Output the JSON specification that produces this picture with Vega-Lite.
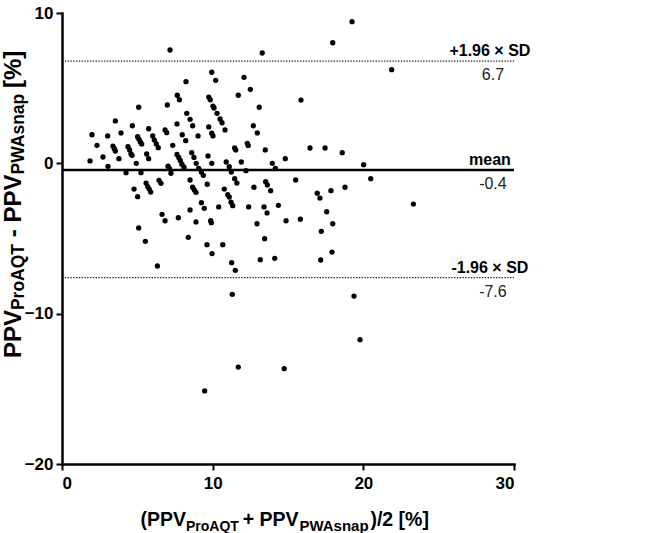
{
  "$schema": "https://vega.github.io/schema/vega-lite/v6.json",
  "width": 452,
  "height": 451,
  "autosize": {"type": "none"},
  "padding": {"left": 62, "top": 13, "right": 132, "bottom": 69},
  "background": "white",
  "config": {
    "view": {"stroke": null},
    "font": "Liberation Sans",
    "axis": {
      "domainColor": "black", "domainWidth": 2.5, "domainCap": "square",
      "tickColor": "black", "tickWidth": 2, "tickSize": 6,
      "labelFont": "Liberation Sans", "labelFontWeight": "bold", "labelFontSize": 17,
      "labelColor": "black", "grid": false, "title": null
    }
  },
  "datasets": {
    "points": [
      {"x": 7.17, "y": 7.54}, {"x": 13.29, "y": 7.34}, {"x": 19.25, "y": 9.42}, {"x": 17.97, "y": 8.02},
      {"x": 21.88, "y": 6.23}, {"x": 8.23, "y": 5.43}, {"x": 9.94, "y": 6.06}, {"x": 10.20, "y": 5.52},
      {"x": 12.08, "y": 5.72}, {"x": 12.50, "y": 4.92}, {"x": 11.70, "y": 4.53}, {"x": 13.09, "y": 3.73},
      {"x": 15.86, "y": 4.21}, {"x": 5.09, "y": 3.73}, {"x": 6.99, "y": 3.88}, {"x": 7.65, "y": 4.53},
      {"x": 7.79, "y": 4.23}, {"x": 9.74, "y": 4.41}, {"x": 9.84, "y": 4.23}, {"x": 10.02, "y": 3.81},
      {"x": 10.09, "y": 3.68}, {"x": 10.29, "y": 3.33}, {"x": 10.49, "y": 2.95}, {"x": 10.62, "y": 2.70},
      {"x": 10.82, "y": 2.22}, {"x": 8.28, "y": 3.33}, {"x": 8.50, "y": 2.93}, {"x": 8.67, "y": 2.50},
      {"x": 7.63, "y": 2.62}, {"x": 9.03, "y": 1.82}, {"x": 9.74, "y": 2.42}, {"x": 9.94, "y": 2.00},
      {"x": 10.02, "y": 1.82}, {"x": 3.54, "y": 2.82}, {"x": 4.67, "y": 2.50}, {"x": 3.92, "y": 2.02},
      {"x": 5.75, "y": 2.30}, {"x": 6.84, "y": 2.22}, {"x": 6.95, "y": 2.04}, {"x": 1.99, "y": 1.90},
      {"x": 3.03, "y": 1.82}, {"x": 2.32, "y": 1.20}, {"x": 3.38, "y": 1.15}, {"x": 3.47, "y": 0.97},
      {"x": 3.54, "y": 0.82}, {"x": 4.38, "y": 1.11}, {"x": 4.49, "y": 0.89}, {"x": 4.58, "y": 0.62},
      {"x": 4.65, "y": 0.53}, {"x": 5.02, "y": 1.77}, {"x": 5.11, "y": 1.60}, {"x": 5.20, "y": 1.42},
      {"x": 5.29, "y": 1.29}, {"x": 6.02, "y": 1.82}, {"x": 6.13, "y": 1.55}, {"x": 6.26, "y": 1.29},
      {"x": 6.39, "y": 1.04}, {"x": 7.35, "y": 1.20}, {"x": 7.98, "y": 1.90}, {"x": 8.21, "y": 1.51},
      {"x": 2.72, "y": 0.42}, {"x": 1.86, "y": 0.16}, {"x": 3.78, "y": 0.31}, {"x": 5.62, "y": 0.62},
      {"x": 5.75, "y": 0.31}, {"x": 7.63, "y": 0.59}, {"x": 7.75, "y": 0.39}, {"x": 7.85, "y": 0.19},
      {"x": 8.61, "y": 0.71}, {"x": 8.76, "y": 0.39}, {"x": 9.69, "y": 0.49}, {"x": 10.90, "y": 0.09},
      {"x": 11.46, "y": 1.02}, {"x": 11.53, "y": 0.89}, {"x": 11.90, "y": 0.09}, {"x": 12.30, "y": 1.33},
      {"x": 12.36, "y": 1.19}, {"x": 12.70, "y": 2.50}, {"x": 12.96, "y": 2.02}, {"x": 13.49, "y": 0.89},
      {"x": 14.82, "y": 0.31}, {"x": 16.46, "y": 1.02}, {"x": 17.46, "y": 1.02}, {"x": 18.60, "y": 0.71},
      {"x": 3.05, "y": -0.20}, {"x": 4.93, "y": 0.00}, {"x": 7.04, "y": -0.19}, {"x": 7.12, "y": -0.33},
      {"x": 7.96, "y": -0.06}, {"x": 8.10, "y": -0.26}, {"x": 8.91, "y": 0.00}, {"x": 9.07, "y": -0.33},
      {"x": 9.25, "y": -0.58}, {"x": 9.38, "y": -0.80}, {"x": 9.94, "y": 0.00}, {"x": 11.10, "y": -0.22},
      {"x": 13.96, "y": 0.00}, {"x": 14.16, "y": -0.33}, {"x": 20.02, "y": -0.09}, {"x": 4.25, "y": -0.62},
      {"x": 5.24, "y": -0.62}, {"x": 7.23, "y": -0.66}, {"x": 11.24, "y": -0.58}, {"x": 12.21, "y": -0.49},
      {"x": 4.78, "y": -1.71}, {"x": 5.02, "y": -2.22}, {"x": 5.58, "y": -1.31}, {"x": 5.69, "y": -1.55},
      {"x": 5.79, "y": -1.71}, {"x": 5.89, "y": -1.91}, {"x": 6.44, "y": -1.13}, {"x": 6.57, "y": -1.33},
      {"x": 6.64, "y": -3.39}, {"x": 6.84, "y": -3.82}, {"x": 5.09, "y": -4.30}, {"x": 5.53, "y": -5.19},
      {"x": 6.33, "y": -6.83}, {"x": 7.72, "y": -3.62}, {"x": 8.50, "y": -1.11}, {"x": 8.67, "y": -1.59},
      {"x": 8.78, "y": -1.77}, {"x": 8.89, "y": -1.93}, {"x": 8.50, "y": -3.10}, {"x": 8.38, "y": -4.92},
      {"x": 8.89, "y": -3.90}, {"x": 9.64, "y": -1.39}, {"x": 9.25, "y": -2.62}, {"x": 9.44, "y": -2.99},
      {"x": 9.87, "y": -3.82}, {"x": 9.91, "y": -3.95}, {"x": 9.62, "y": -5.41}, {"x": 9.96, "y": -6.01},
      {"x": 10.40, "y": -2.90}, {"x": 10.67, "y": -5.41}, {"x": 10.77, "y": -1.71}, {"x": 11.00, "y": -2.09},
      {"x": 11.10, "y": -2.24}, {"x": 11.22, "y": -2.59}, {"x": 11.33, "y": -2.82}, {"x": 11.26, "y": -6.61},
      {"x": 11.50, "y": -7.12}, {"x": 11.30, "y": -8.71}, {"x": 11.46, "y": -1.02}, {"x": 11.61, "y": -1.31},
      {"x": 12.74, "y": -1.59}, {"x": 12.39, "y": -2.90}, {"x": 12.94, "y": -4.02}, {"x": 13.16, "y": -6.41},
      {"x": 13.45, "y": -5.01}, {"x": 13.41, "y": -2.90}, {"x": 13.61, "y": -3.30}, {"x": 13.52, "y": -1.22},
      {"x": 13.63, "y": -1.44}, {"x": 13.85, "y": -1.82}, {"x": 14.36, "y": -2.79}, {"x": 14.12, "y": -6.32},
      {"x": 14.87, "y": -3.82}, {"x": 15.51, "y": -1.11}, {"x": 20.49, "y": -1.02}, {"x": 16.94, "y": -1.99},
      {"x": 17.12, "y": -2.31}, {"x": 17.85, "y": -1.82}, {"x": 18.78, "y": -1.59}, {"x": 17.57, "y": -3.22},
      {"x": 15.82, "y": -3.72}, {"x": 17.97, "y": -4.02}, {"x": 17.21, "y": -4.52}, {"x": 17.92, "y": -5.90},
      {"x": 17.17, "y": -6.43}, {"x": 23.32, "y": -2.71}, {"x": 19.38, "y": -8.83}, {"x": 9.47, "y": -15.14},
      {"x": 11.70, "y": -13.55}, {"x": 14.75, "y": -13.66}, {"x": 19.78, "y": -11.73}
    ],
    "lines": [
      {"y": 6.8, "label": "+1.96 × SD", "value": "6.7", "kind": "limit"},
      {"y": -0.44, "label": "mean", "value": "-0.4", "kind": "mean"},
      {"y": -7.6, "label": "-1.96 × SD", "value": "-7.6", "kind": "limit"}
    ],
    "one": [{}]
  },
  "layer": [
    {
      "data": {"name": "lines"},
      "transform": [{"filter": "datum.kind === 'limit'"}],
      "mark": {"type": "rule", "color": "#222", "strokeWidth": 1.3, "strokeDash": [1.4, 1.4]},
      "encoding": {
        "x": {"datum": 0, "type": "quantitative", "scale": {"domain": [0, 30], "nice": false, "zero": false}},
        "x2": {"datum": 30},
        "y": {"field": "y", "type": "quantitative", "scale": {"domain": [-20, 10], "nice": false, "zero": false}}
      }
    },
    {
      "data": {"name": "lines"},
      "transform": [{"filter": "datum.kind === 'mean'"}],
      "mark": {"type": "rule", "color": "black", "strokeWidth": 2.5},
      "encoding": {
        "x": {"datum": 0, "type": "quantitative"},
        "x2": {"datum": 30},
        "y": {"field": "y", "type": "quantitative"}
      }
    },
    {
      "data": {"name": "points"},
      "mark": {"type": "circle", "color": "black", "opacity": 1, "size": 28},
      "encoding": {
        "x": {"field": "x", "type": "quantitative", "scale": {"domain": [0, 30], "nice": false, "zero": false},
              "axis": {"values": [0, 10, 20, 30], "labelPadding": 5, "orient": "bottom"}},
        "y": {"field": "y", "type": "quantitative", "scale": {"domain": [-20, 10], "nice": false, "zero": false},
              "axis": {"values": [-20, -10, 0, 10], "labelPadding": 3, "orient": "left"}}
      }
    },
    {
      "data": {"name": "lines"},
      "mark": {"type": "text", "font": "Liberation Sans", "fontWeight": "bold", "fontSize": 16, "align": "center", "baseline": "alphabetic", "dy": -5, "color": "black"},
      "encoding": {
        "x": {"datum": 28.4, "type": "quantitative"},
        "y": {"field": "y", "type": "quantitative"},
        "text": {"field": "label"}
      }
    },
    {
      "data": {"name": "lines"},
      "mark": {"type": "text", "font": "Liberation Sans", "fontSize": 16, "align": "center", "baseline": "alphabetic", "dy": 19, "color": "#222"},
      "encoding": {
        "x": {"datum": 28.6, "type": "quantitative"},
        "y": {"field": "y", "type": "quantitative"},
        "text": {"field": "value"}
      }
    },
    {"data": {"name": "one"}, "mark": {"type": "text", "text": "(PPV", "font": "Liberation Sans", "fontWeight": "bold", "fontSize": 19.5, "align": "left", "baseline": "alphabetic", "color": "black"},
     "encoding": {"x": {"datum": 5.21, "type": "quantitative"}, "y": {"datum": -24.12, "type": "quantitative"}}},
    {"data": {"name": "one"}, "mark": {"type": "text", "text": "ProAQT", "font": "Liberation Sans", "fontWeight": "bold", "fontSize": 14, "align": "left", "baseline": "alphabetic", "color": "black"},
     "encoding": {"x": {"datum": 8.23, "type": "quantitative"}, "y": {"datum": -24.46, "type": "quantitative"}}},
    {"data": {"name": "one"}, "mark": {"type": "text", "text": "+ PPV", "font": "Liberation Sans", "fontWeight": "bold", "fontSize": 19.5, "align": "left", "baseline": "alphabetic", "color": "black"},
     "encoding": {"x": {"datum": 11.99, "type": "quantitative"}, "y": {"datum": -24.12, "type": "quantitative"}}},
    {"data": {"name": "one"}, "mark": {"type": "text", "text": "PWAsnap", "font": "Liberation Sans", "fontWeight": "bold", "fontSize": 15, "align": "left", "baseline": "alphabetic", "color": "black"},
     "encoding": {"x": {"datum": 15.76, "type": "quantitative"}, "y": {"datum": -24.46, "type": "quantitative"}}},
    {"data": {"name": "one"}, "mark": {"type": "text", "text": ")/2 [%]", "font": "Liberation Sans", "fontWeight": "bold", "fontSize": 19.5, "align": "left", "baseline": "alphabetic", "color": "black"},
     "encoding": {"x": {"datum": 20.47, "type": "quantitative"}, "y": {"datum": -24.12, "type": "quantitative"}}},
    {"data": {"name": "one"}, "mark": {"type": "text", "text": "PPV", "angle": 270, "font": "Liberation Sans", "fontWeight": "bold", "fontSize": 24, "align": "left", "baseline": "alphabetic", "color": "black"},
     "encoding": {"x": {"datum": -2.72, "type": "quantitative"}, "y": {"datum": -12.95, "type": "quantitative"}}},
    {"data": {"name": "one"}, "mark": {"type": "text", "text": "ProAQT", "angle": 270, "font": "Liberation Sans", "fontWeight": "bold", "fontSize": 17.5, "align": "left", "baseline": "alphabetic", "color": "black"},
     "encoding": {"x": {"datum": -2.52, "type": "quantitative"}, "y": {"datum": -9.76, "type": "quantitative"}}},
    {"data": {"name": "one"}, "mark": {"type": "text", "text": "- PPV", "angle": 270, "font": "Liberation Sans", "fontWeight": "bold", "fontSize": 24, "align": "left", "baseline": "alphabetic", "color": "black"},
     "encoding": {"x": {"datum": -2.72, "type": "quantitative"}, "y": {"datum": -4.91, "type": "quantitative"}}},
    {"data": {"name": "one"}, "mark": {"type": "text", "text": "PWAsnap", "angle": 270, "font": "Liberation Sans", "fontWeight": "bold", "fontSize": 17.5, "align": "left", "baseline": "alphabetic", "color": "black"},
     "encoding": {"x": {"datum": -2.52, "type": "quantitative"}, "y": {"datum": -0.74, "type": "quantitative"}}},
    {"data": {"name": "one"}, "mark": {"type": "text", "text": "[%]", "angle": 270, "font": "Liberation Sans", "fontWeight": "bold", "fontSize": 24, "align": "left", "baseline": "alphabetic", "color": "black"},
     "encoding": {"x": {"datum": -2.72, "type": "quantitative"}, "y": {"datum": 5.01, "type": "quantitative"}}}
  ]
}
